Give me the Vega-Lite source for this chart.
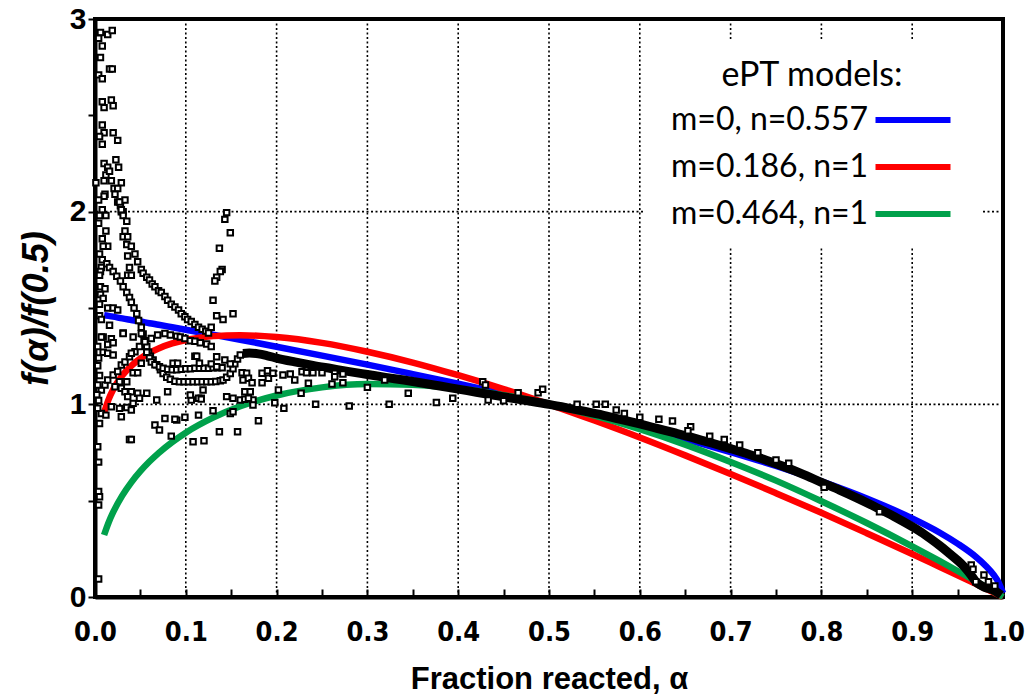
{
"$schema":"https://vega.github.io/schema/vega-lite/v6.json",
"width":908,"height":578,
"autosize":{"type":"none"},
"padding":{"left":95,"top":19,"right":24,"bottom":99},
"background":"white",
"config":{"view":{"stroke":"black","strokeWidth":4}},
"datasets":{
"gridx":[{"a":0.1},{"a":0.2},{"a":0.3},{"a":0.4},{"a":0.5},{"a":0.6},{"a":0.7},{"a":0.8},{"a":0.9}],
"gridy":[{"v":1},{"v":2}],
"models":[
{"a":0.01,"v":1.463,"m":"m=0, n=0.557"},{"a":0.015,"v":1.459,"m":"m=0, n=0.557"},{"a":0.02,"v":1.455,"m":"m=0, n=0.557"},{"a":0.03,"v":1.446,"m":"m=0, n=0.557"},{"a":0.04,"v":1.438,"m":"m=0, n=0.557"},{"a":0.05,"v":1.43,"m":"m=0, n=0.557"},{"a":0.06,"v":1.421,"m":"m=0, n=0.557"},{"a":0.07,"v":1.413,"m":"m=0, n=0.557"},{"a":0.085,"v":1.4,"m":"m=0, n=0.557"},{"a":0.1,"v":1.387,"m":"m=0, n=0.557"},{"a":0.13,"v":1.361,"m":"m=0, n=0.557"},{"a":0.16,"v":1.335,"m":"m=0, n=0.557"},{"a":0.2,"v":1.299,"m":"m=0, n=0.557"},{"a":0.25,"v":1.253,"m":"m=0, n=0.557"},{"a":0.3,"v":1.206,"m":"m=0, n=0.557"},{"a":0.35,"v":1.157,"m":"m=0, n=0.557"},{"a":0.4,"v":1.107,"m":"m=0, n=0.557"},{"a":0.45,"v":1.055,"m":"m=0, n=0.557"},{"a":0.5,"v":1.0,"m":"m=0, n=0.557"},{"a":0.55,"v":0.943,"m":"m=0, n=0.557"},{"a":0.6,"v":0.883,"m":"m=0, n=0.557"},{"a":0.65,"v":0.82,"m":"m=0, n=0.557"},{"a":0.7,"v":0.752,"m":"m=0, n=0.557"},{"a":0.75,"v":0.68,"m":"m=0, n=0.557"},{"a":0.8,"v":0.6,"m":"m=0, n=0.557"},{"a":0.85,"v":0.511,"m":"m=0, n=0.557"},{"a":0.9,"v":0.408,"m":"m=0, n=0.557"},{"a":0.93,"v":0.335,"m":"m=0, n=0.557"},{"a":0.95,"v":0.277,"m":"m=0, n=0.557"},{"a":0.97,"v":0.209,"m":"m=0, n=0.557"},{"a":0.98,"v":0.166,"m":"m=0, n=0.557"},{"a":0.99,"v":0.113,"m":"m=0, n=0.557"},{"a":0.995,"v":0.077,"m":"m=0, n=0.557"},{"a":1.0,"v":0.02,"m":"m=0, n=0.557"},
{"a":0.01,"v":0.956,"m":"m=0.186, n=1"},{"a":0.015,"v":1.026,"m":"m=0.186, n=1"},{"a":0.02,"v":1.077,"m":"m=0.186, n=1"},{"a":0.03,"v":1.15,"m":"m=0.186, n=1"},{"a":0.04,"v":1.2,"m":"m=0.186, n=1"},{"a":0.05,"v":1.238,"m":"m=0.186, n=1"},{"a":0.06,"v":1.267,"m":"m=0.186, n=1"},{"a":0.07,"v":1.29,"m":"m=0.186, n=1"},{"a":0.085,"v":1.316,"m":"m=0.186, n=1"},{"a":0.1,"v":1.334,"m":"m=0.186, n=1"},{"a":0.13,"v":1.354,"m":"m=0.186, n=1"},{"a":0.16,"v":1.359,"m":"m=0.186, n=1"},{"a":0.2,"v":1.349,"m":"m=0.186, n=1"},{"a":0.25,"v":1.319,"m":"m=0.186, n=1"},{"a":0.3,"v":1.273,"m":"m=0.186, n=1"},{"a":0.35,"v":1.217,"m":"m=0.186, n=1"},{"a":0.4,"v":1.151,"m":"m=0.186, n=1"},{"a":0.45,"v":1.079,"m":"m=0.186, n=1"},{"a":0.5,"v":1.0,"m":"m=0.186, n=1"},{"a":0.55,"v":0.916,"m":"m=0.186, n=1"},{"a":0.6,"v":0.828,"m":"m=0.186, n=1"},{"a":0.65,"v":0.735,"m":"m=0.186, n=1"},{"a":0.7,"v":0.639,"m":"m=0.186, n=1"},{"a":0.75,"v":0.539,"m":"m=0.186, n=1"},{"a":0.8,"v":0.437,"m":"m=0.186, n=1"},{"a":0.85,"v":0.331,"m":"m=0.186, n=1"},{"a":0.9,"v":0.223,"m":"m=0.186, n=1"},{"a":0.93,"v":0.157,"m":"m=0.186, n=1"},{"a":0.95,"v":0.113,"m":"m=0.186, n=1"},{"a":0.97,"v":0.068,"m":"m=0.186, n=1"},{"a":0.98,"v":0.045,"m":"m=0.186, n=1"},{"a":0.99,"v":0.023,"m":"m=0.186, n=1"},{"a":0.995,"v":0.011,"m":"m=0.186, n=1"},{"a":1.0,"v":0.0,"m":"m=0.186, n=1"},
{"a":0.01,"v":0.322,"m":"m=0.464, n=1"},{"a":0.015,"v":0.387,"m":"m=0.464, n=1"},{"a":0.02,"v":0.44,"m":"m=0.464, n=1"},{"a":0.03,"v":0.526,"m":"m=0.464, n=1"},{"a":0.04,"v":0.595,"m":"m=0.464, n=1"},{"a":0.05,"v":0.653,"m":"m=0.464, n=1"},{"a":0.06,"v":0.703,"m":"m=0.464, n=1"},{"a":0.07,"v":0.747,"m":"m=0.464, n=1"},{"a":0.085,"v":0.804,"m":"m=0.464, n=1"},{"a":0.1,"v":0.853,"m":"m=0.464, n=1"},{"a":0.13,"v":0.931,"m":"m=0.464, n=1"},{"a":0.16,"v":0.99,"m":"m=0.464, n=1"},{"a":0.2,"v":1.046,"m":"m=0.464, n=1"},{"a":0.25,"v":1.088,"m":"m=0.464, n=1"},{"a":0.3,"v":1.105,"m":"m=0.464, n=1"},{"a":0.35,"v":1.102,"m":"m=0.464, n=1"},{"a":0.4,"v":1.082,"m":"m=0.464, n=1"},{"a":0.45,"v":1.048,"m":"m=0.464, n=1"},{"a":0.5,"v":1.0,"m":"m=0.464, n=1"},{"a":0.55,"v":0.941,"m":"m=0.464, n=1"},{"a":0.6,"v":0.871,"m":"m=0.464, n=1"},{"a":0.65,"v":0.791,"m":"m=0.464, n=1"},{"a":0.7,"v":0.701,"m":"m=0.464, n=1"},{"a":0.75,"v":0.604,"m":"m=0.464, n=1"},{"a":0.8,"v":0.497,"m":"m=0.464, n=1"},{"a":0.85,"v":0.384,"m":"m=0.464, n=1"},{"a":0.9,"v":0.263,"m":"m=0.464, n=1"},{"a":0.93,"v":0.187,"m":"m=0.464, n=1"},{"a":0.95,"v":0.135,"m":"m=0.464, n=1"},{"a":0.97,"v":0.082,"m":"m=0.464, n=1"},{"a":0.98,"v":0.055,"m":"m=0.464, n=1"},{"a":0.99,"v":0.027,"m":"m=0.464, n=1"},{"a":0.995,"v":0.014,"m":"m=0.464, n=1"},{"a":1.0,"v":0.0,"m":"m=0.464, n=1"}
],
"band":[
{"a":0.163,"v":1.264},{"a":0.17,"v":1.266},{"a":0.18,"v":1.262},{"a":0.19,"v":1.252},{"a":0.2,"v":1.24},{"a":0.22,"v":1.22},{"a":0.24,"v":1.202},{"a":0.26,"v":1.186},{"a":0.28,"v":1.17},{"a":0.3,"v":1.155},{"a":0.32,"v":1.14},{"a":0.34,"v":1.126},{"a":0.36,"v":1.111},{"a":0.38,"v":1.095},{"a":0.4,"v":1.079},{"a":0.42,"v":1.063},{"a":0.44,"v":1.047},{"a":0.46,"v":1.031},{"a":0.48,"v":1.016},{"a":0.5,"v":1.0},{"a":0.52,"v":0.982},{"a":0.54,"v":0.963},{"a":0.56,"v":0.943},{"a":0.58,"v":0.921},{"a":0.6,"v":0.898},{"a":0.62,"v":0.874},{"a":0.64,"v":0.85},{"a":0.66,"v":0.825},{"a":0.68,"v":0.798},{"a":0.7,"v":0.77},{"a":0.72,"v":0.741},{"a":0.74,"v":0.709},{"a":0.76,"v":0.675},{"a":0.78,"v":0.637},{"a":0.8,"v":0.595},{"a":0.82,"v":0.555},{"a":0.84,"v":0.512},{"a":0.86,"v":0.466},{"a":0.88,"v":0.418},{"a":0.9,"v":0.365},{"a":0.91,"v":0.336},{"a":0.92,"v":0.303},{"a":0.93,"v":0.268},{"a":0.94,"v":0.23},{"a":0.95,"v":0.19},{"a":0.955,"v":0.168},{"a":0.96,"v":0.143},{"a":0.965,"v":0.113},{"a":0.97,"v":0.08},{"a":0.975,"v":0.062},{"a":0.98,"v":0.05},{"a":0.99,"v":0.035},{"a":0.998,"v":0.01}
],
"pts":[
{"a":0.006,"v":2.93},{"a":0.014,"v":2.92},{"a":0.019,"v":2.94},{"a":0.004,"v":2.9},{"a":0.008,"v":2.86},{"a":0.006,"v":2.8},{"a":0.016,"v":2.74},{"a":0.019,"v":2.74},{"a":0.004,"v":2.71},{"a":0.008,"v":2.69},{"a":0.008,"v":2.57},{"a":0.01,"v":2.54},{"a":0.018,"v":2.58},{"a":0.02,"v":2.55},{"a":0.008,"v":2.45},{"a":0.01,"v":2.41},{"a":0.02,"v":2.41},{"a":0.005,"v":2.39},{"a":0.025,"v":2.37},{"a":0.008,"v":2.35},{"a":0.01,"v":2.25},{"a":0.023,"v":2.27},{"a":0.014,"v":2.23},{"a":0.026,"v":2.23},{"a":0.012,"v":2.19},{"a":0.016,"v":2.21},{"a":0.01,"v":2.16},{"a":0.018,"v":2.16},{"a":0.029,"v":2.15},{"a":0.001,"v":2.15},{"a":0.021,"v":2.12},{"a":0.025,"v":2.12},{"a":0.011,"v":2.09},{"a":0.01,"v":2.08},{"a":0.033,"v":2.06},{"a":0.022,"v":2.09},{"a":0.025,"v":2.05},{"a":0.028,"v":2.03},{"a":0.004,"v":2.06},{"a":0.008,"v":2.01},{"a":0.029,"v":2.0},{"a":0.031,"v":2.0},
{"a":0.005,"v":1.98},{"a":0.012,"v":1.98},{"a":0.004,"v":1.94},{"a":0.012,"v":1.9},{"a":0.008,"v":1.86},{"a":0.014,"v":1.82},{"a":0.009,"v":1.82},{"a":0.005,"v":1.78},{"a":0.008,"v":1.75},{"a":0.007,"v":1.71},{"a":0.006,"v":1.69},{"a":0.005,"v":1.67},{"a":0.006,"v":1.61},{"a":0.011,"v":1.6},{"a":0.006,"v":1.57},{"a":0.009,"v":1.55},{"a":0.005,"v":1.52},{"a":0.014,"v":1.5},{"a":0.02,"v":1.5},{"a":0.025,"v":1.49},{"a":0.005,"v":1.46},{"a":0.007,"v":1.44},{"a":0.016,"v":1.41},{"a":0.009,"v":1.35},{"a":0.018,"v":1.34},{"a":0.031,"v":1.37},{"a":0.042,"v":1.35},
{"a":0.027,"v":2.05},{"a":0.029,"v":2.01},{"a":0.031,"v":1.98},{"a":0.035,"v":1.95},{"a":0.033,"v":1.9},{"a":0.031,"v":1.87},{"a":0.036,"v":1.87},{"a":0.035,"v":1.83},{"a":0.04,"v":1.82},{"a":0.036,"v":1.77},{"a":0.044,"v":1.78},{"a":0.047,"v":1.74},{"a":0.038,"v":1.71},{"a":0.036,"v":1.67},{"a":0.04,"v":1.67},{"a":0.051,"v":1.7},{"a":0.053,"v":1.68},{"a":0.057,"v":1.66},{"a":0.06,"v":1.645},{"a":0.063,"v":1.625},{"a":0.066,"v":1.61},{"a":0.07,"v":1.59},{"a":0.073,"v":1.58},{"a":0.077,"v":1.56},{"a":0.08,"v":1.54},{"a":0.084,"v":1.52},{"a":0.088,"v":1.505},{"a":0.092,"v":1.49},{"a":0.095,"v":1.47},{"a":0.099,"v":1.455},{"a":0.102,"v":1.44},{"a":0.106,"v":1.43},{"a":0.11,"v":1.415},{"a":0.114,"v":1.4},{"a":0.118,"v":1.39},{"a":0.122,"v":1.38},{"a":0.125,"v":1.37},{"a":0.128,"v":1.4},
{"a":0.013,"v":1.73},{"a":0.016,"v":1.71},{"a":0.02,"v":1.69},{"a":0.024,"v":1.665},{"a":0.028,"v":1.64},{"a":0.031,"v":1.61},{"a":0.035,"v":1.58},{"a":0.038,"v":1.555},{"a":0.04,"v":1.53},{"a":0.043,"v":1.5},{"a":0.046,"v":1.47},{"a":0.048,"v":1.435},{"a":0.051,"v":1.4},{"a":0.053,"v":1.365},{"a":0.055,"v":1.33},{"a":0.057,"v":1.3},{"a":0.059,"v":1.27},{"a":0.061,"v":1.25},{"a":0.064,"v":1.23},{"a":0.068,"v":1.205},{"a":0.072,"v":1.18},{"a":0.075,"v":1.16},{"a":0.079,"v":1.14},{"a":0.083,"v":1.13},{"a":0.088,"v":1.12},{"a":0.093,"v":1.117},{"a":0.098,"v":1.117},{"a":0.103,"v":1.117},{"a":0.108,"v":1.117},{"a":0.113,"v":1.117},{"a":0.118,"v":1.117},{"a":0.123,"v":1.117},{"a":0.128,"v":1.117},{"a":0.133,"v":1.118},{"a":0.138,"v":1.122},{"a":0.141,"v":1.126},{"a":0.145,"v":1.14},{"a":0.149,"v":1.16},{"a":0.152,"v":1.185},{"a":0.154,"v":1.21},{"a":0.157,"v":1.235},{"a":0.16,"v":1.256},
{"a":0.054,"v":1.33},{"a":0.057,"v":1.27},{"a":0.06,"v":1.24},{"a":0.062,"v":1.22},{"a":0.066,"v":1.205},{"a":0.071,"v":1.195},{"a":0.075,"v":1.187},{"a":0.08,"v":1.182},{"a":0.085,"v":1.18},{"a":0.09,"v":1.18},{"a":0.095,"v":1.182},{"a":0.1,"v":1.185},{"a":0.105,"v":1.185},{"a":0.11,"v":1.187},{"a":0.115,"v":1.187},{"a":0.12,"v":1.187},{"a":0.125,"v":1.187},{"a":0.13,"v":1.19},{"a":0.135,"v":1.19},{"a":0.14,"v":1.19},
{"a":0.007,"v":1.074},{"a":0.011,"v":1.1},{"a":0.014,"v":1.126},{"a":0.02,"v":1.152},{"a":0.025,"v":1.17},{"a":0.029,"v":1.204},{"a":0.033,"v":1.22},{"a":0.038,"v":1.247},{"a":0.044,"v":1.273},{"a":0.049,"v":1.3},{"a":0.055,"v":1.325},{"a":0.062,"v":1.342},{"a":0.069,"v":1.36},{"a":0.077,"v":1.368},{"a":0.083,"v":1.36},{"a":0.09,"v":1.354},{"a":0.094,"v":1.35},{"a":0.099,"v":1.342},{"a":0.105,"v":1.33},{"a":0.11,"v":1.327},{"a":0.116,"v":1.32},{"a":0.123,"v":1.313},{"a":0.128,"v":1.3},
{"a":0.145,"v":1.995},{"a":0.143,"v":1.96},{"a":0.149,"v":1.89},{"a":0.137,"v":1.81},{"a":0.14,"v":1.7},{"a":0.138,"v":1.69},{"a":0.134,"v":1.66},{"a":0.132,"v":1.64},{"a":0.13,"v":1.54},{"a":0.134,"v":1.46},{"a":0.141,"v":1.44},{"a":0.152,"v":1.47},{"a":0.134,"v":1.247},
{"a":0.007,"v":1.35},{"a":0.014,"v":1.31},{"a":0.02,"v":1.32},{"a":0.009,"v":1.27},{"a":0.014,"v":1.265},{"a":0.02,"v":1.256},{"a":0.031,"v":1.368},{"a":0.051,"v":1.368},{"a":0.04,"v":1.265},{"a":0.051,"v":1.213},{"a":0.042,"v":1.164},{"a":0.047,"v":1.164},{"a":0.027,"v":1.117},{"a":0.035,"v":1.117},{"a":0.022,"v":1.091},{"a":0.029,"v":1.083},{"a":0.033,"v":1.065},{"a":0.04,"v":1.065},{"a":0.047,"v":1.057},{"a":0.057,"v":1.057},{"a":0.036,"v":1.04},{"a":0.049,"v":1.031},{"a":0.042,"v":1.005},{"a":0.068,"v":1.022},{"a":0.08,"v":1.065},{"a":0.086,"v":1.213},{"a":0.091,"v":1.213},{"a":0.11,"v":1.25},{"a":0.115,"v":1.213},{"a":0.119,"v":1.074},{"a":0.117,"v":1.031},{"a":0.106,"v":1.022},{"a":0.018,"v":0.988},{"a":0.027,"v":0.979},{"a":0.035,"v":0.984},{"a":0.04,"v":0.97},{"a":0.007,"v":0.953},{"a":0.012,"v":0.944},{"a":0.005,"v":0.9},{"a":0.029,"v":0.936},{"a":0.038,"v":0.818},{"a":0.04,"v":0.818},{"a":0.066,"v":0.893},{"a":0.071,"v":0.867},{"a":0.084,"v":0.835},{"a":0.077,"v":0.927},{"a":0.09,"v":0.918},{"a":0.003,"v":0.78},{"a":0.004,"v":0.7},{"a":0.004,"v":0.547},{"a":0.005,"v":0.52},{"a":0.004,"v":0.477},{"a":0.004,"v":0.093},
{"a":0.003,"v":1.3},{"a":0.004,"v":1.24},{"a":0.003,"v":1.2},{"a":0.005,"v":1.15},{"a":0.003,"v":1.1},{"a":0.002,"v":1.05},{"a":0.004,"v":1.02},{"a":0.003,"v":0.98},
{"a":0.112,"v":1.25},{"a":0.128,"v":1.21},{"a":0.134,"v":1.195},{"a":0.143,"v":1.23},{"a":0.149,"v":1.21},{"a":0.162,"v":1.164},{"a":0.167,"v":1.161},{"a":0.163,"v":1.126},{"a":0.169,"v":1.135},{"a":0.173,"v":1.112},{"a":0.165,"v":1.065},{"a":0.171,"v":1.065},{"a":0.184,"v":1.161},{"a":0.19,"v":1.174},{"a":0.184,"v":1.112},{"a":0.191,"v":1.135},{"a":0.196,"v":1.161},{"a":0.207,"v":1.152},{"a":0.215,"v":1.157},{"a":0.22,"v":1.126},{"a":0.235,"v":1.109},{"a":0.114,"v":1.031},{"a":0.105,"v":1.048},{"a":0.145,"v":1.04},{"a":0.152,"v":1.031},{"a":0.16,"v":1.022},{"a":0.13,"v":0.967},{"a":0.149,"v":0.953},{"a":0.152,"v":0.962},{"a":0.165,"v":1.026},{"a":0.174,"v":1.022},{"a":0.202,"v":1.074},{"a":0.198,"v":1.008},{"a":0.208,"v":0.979},{"a":0.18,"v":0.915},{"a":0.099,"v":0.933},{"a":0.108,"v":0.806},{"a":0.12,"v":0.811},{"a":0.137,"v":0.858},{"a":0.157,"v":0.858},{"a":0.117,"v":1.027},{"a":0.114,"v":0.944},{"a":0.088,"v":0.922},{"a":0.169,"v":1.031},{"a":0.174,"v":0.997},{"a":0.227,"v":1.057},{"a":0.243,"v":1.0},{"a":0.261,"v":1.105},{"a":0.273,"v":1.112},{"a":0.28,"v":0.991},{"a":0.3,"v":1.088},
{"a":0.228,"v":1.169},{"a":0.233,"v":1.164},{"a":0.24,"v":1.164},{"a":0.25,"v":1.164},{"a":0.264,"v":1.161},{"a":0.273,"v":1.157},{"a":0.264,"v":1.143},{"a":0.319,"v":1.126},{"a":0.345,"v":1.057},{"a":0.324,"v":1.0},{"a":0.376,"v":1.01},{"a":0.394,"v":1.031},{"a":0.427,"v":1.117},{"a":0.43,"v":1.1},{"a":0.433,"v":1.022},{"a":0.45,"v":1.019},{"a":0.466,"v":1.06},{"a":0.488,"v":1.06},{"a":0.493,"v":1.078},
{"a":0.531,"v":1.0},{"a":0.552,"v":1.0},{"a":0.562,"v":1.0},{"a":0.574,"v":0.97},{"a":0.583,"v":0.953},{"a":0.6,"v":0.933},{"a":0.621,"v":0.922},{"a":0.636,"v":0.913},{"a":0.656,"v":0.884},{"a":0.653,"v":0.863},{"a":0.677,"v":0.835},{"a":0.693,"v":0.818},{"a":0.71,"v":0.789},{"a":0.73,"v":0.749},{"a":0.75,"v":0.711},{"a":0.764,"v":0.694},{"a":0.803,"v":0.569},{"a":0.864,"v":0.443},{"a":0.965,"v":0.166},{"a":0.967,"v":0.144},{"a":0.979,"v":0.114},{"a":0.984,"v":0.079},{"a":0.991,"v":0.057},{"a":0.97,"v":0.079}
]
},
"layer":[
{"data":{"name":"gridx"},"mark":{"type":"rule","stroke":"black","strokeDash":[2,2.5],"strokeWidth":1.6},
 "encoding":{"x":{"field":"a","type":"quantitative","scale":{"domain":[0,1],"nice":false,"zero":false},
  "axis":{"title":"Fraction reacted, α","values":[0,0.05,0.1,0.15,0.2,0.25,0.3,0.35,0.4,0.45,0.5,0.55,0.6,0.65,0.7,0.75,0.8,0.85,0.9,0.95,1],"labelExpr":"round(datum.value*20)%2==0 ? format(datum.value,'.1f') : ''","grid":false,"domainColor":"black","domainWidth":4,"tickColor":"black","tickWidth":2,"tickSize":-8,"labelFont":"Liberation Sans Narrow, DejaVu Sans Condensed, sans-serif","labelFontWeight":"bold","labelFontSize":27,"labelColor":"black","labelPadding":30,"labelOverlap":false,"labelFlush":false,"titleFont":"Liberation Sans","titleFontWeight":"bold","titleFontSize":31,"titleColor":"black","titlePadding":19}}}},
{"data":{"name":"gridy"},"mark":{"type":"rule","stroke":"black","strokeDash":[2,2.5],"strokeWidth":1.6},
 "encoding":{"y":{"field":"v","type":"quantitative","scale":{"domain":[0,3],"nice":false,"zero":false},
  "axis":{"title":"f(α)/f(0.5)","values":[0,0.5,1,1.5,2,2.5,3],"labelExpr":"datum.value%1==0 ? format(datum.value,'d') : ''","grid":false,"domainColor":"black","domainWidth":4,"tickColor":"black","tickWidth":2,"tickSize":7,"labelFont":"Liberation Sans","labelFontWeight":"bold","labelFontSize":30,"labelColor":"black","labelPadding":2,"labelOverlap":false,"labelFlush":false,"titleFont":"Liberation Sans","titleFontWeight":"bold","titleFontStyle":"italic","titleFontSize":36,"titleColor":"black","titlePadding":14}}}},
{"data":{"name":"models"},"mark":{"type":"line","strokeWidth":6.5,"interpolate":"monotone"},
 "encoding":{"x":{"field":"a","type":"quantitative"},"y":{"field":"v","type":"quantitative"},
  "color":{"field":"m","type":"nominal","sort":null,"scale":{"domain":["m=0, n=0.557","m=0.186, n=1","m=0.464, n=1"],"range":["#0000FF","#FF0000","#00A14B"]},
   "legend":{"title":"ePT models:","orient":"top-right","offset":22,"fillColor":"white","padding":18,"titleFont":"Lato","titleFontSize":34,"titleFontWeight":"normal","titleColor":"black","titleAnchor":"middle","titlePadding":9,"titleLimit":500,"labelFont":"Lato","labelFontSize":32,"labelColor":"black","labelLimit":400,"labelOffset":-260,"symbolType":"M-2.5,0H2.5","symbolSize":900,"symbolStrokeWidth":6,"symbolOffset":234,"rowPadding":13}}}},
{"data":{"name":"band"},"mark":{"type":"line","strokeWidth":9,"color":"black","interpolate":"monotone"},
 "encoding":{"x":{"field":"a","type":"quantitative"},"y":{"field":"v","type":"quantitative"}}},
{"data":{"name":"pts"},"mark":{"type":"point","shape":"square","filled":true,"fill":"white","stroke":"black","strokeWidth":2,"size":30,"opacity":1},
 "encoding":{"x":{"field":"a","type":"quantitative"},"y":{"field":"v","type":"quantitative"}}}
]
}
